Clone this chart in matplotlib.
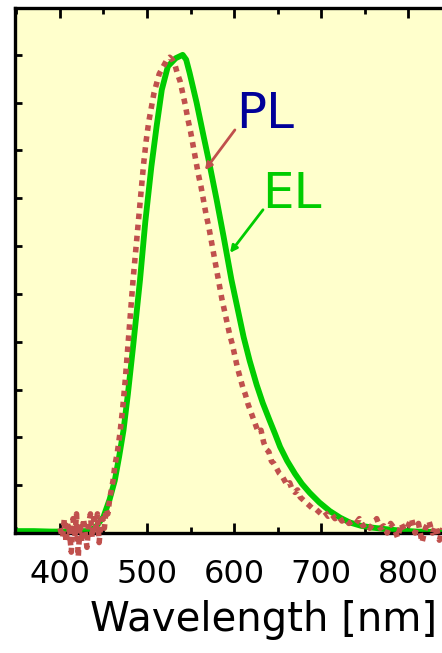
import numpy as np
import matplotlib
matplotlib.use("Agg")
import matplotlib.pyplot as plt
from matplotlib.ticker import MultipleLocator

# EL spectrum (green solid line)
el_wl = [348, 370, 390, 410, 430, 440, 450, 457, 463, 468, 473, 478, 484, 488, 492,
         498, 505, 511, 517, 524, 533, 541, 545, 549, 557, 565, 572, 580, 588, 597,
         604, 611, 618, 626, 633, 641, 647, 653, 661, 670, 678, 687, 698, 710, 722,
         733, 746, 760, 775, 791, 810, 840]
el_val = [0.004, 0.004, 0.003, 0.003, 0.004, 0.01, 0.034, 0.07, 0.11, 0.16, 0.215, 0.29,
          0.39, 0.46, 0.53, 0.65, 0.766, 0.85, 0.927, 0.976, 0.993, 1.0, 0.99, 0.962,
          0.9, 0.83, 0.77, 0.697, 0.62, 0.53, 0.47, 0.41, 0.36, 0.31, 0.272, 0.235,
          0.208, 0.18, 0.151, 0.124, 0.103, 0.084, 0.064, 0.046, 0.032, 0.022, 0.015,
          0.011, 0.008, 0.005, 0.003, 0.002]

# PL spectrum (red dotted, noisy)
pl_wl = [400, 403, 405, 407, 409, 411, 413, 415, 417, 419, 421, 423, 425, 427, 429,
         431, 433, 435, 437, 439, 441, 443, 445, 447, 449, 451, 453, 455, 457, 459,
         461, 463, 466, 469, 472, 475, 478, 481, 484, 487, 490, 493, 496, 499, 502,
         505, 508, 511, 514, 517, 520, 523, 526, 529, 532, 535, 538, 541, 544, 547,
         550, 553, 556, 559, 562, 565, 568, 571, 574, 577, 580, 583, 586, 589, 592,
         595, 598, 601, 604, 607, 610, 613, 616, 619, 622, 625, 628, 631, 634, 637,
         640, 643, 646, 649, 652, 655, 658, 661, 664, 667, 670, 673, 676, 679, 682,
         685, 688, 691, 694, 697, 700, 704, 708, 712, 716, 720, 724, 728, 732, 736,
         740, 744, 748, 752, 756, 760, 764, 768, 772, 776, 780, 784, 788, 792, 796,
         800, 804, 808, 812, 816, 820, 824, 828, 832, 836, 840]
pl_val = [0.01, -0.01, 0.03, -0.02, 0.02, 0.0, -0.04, 0.03, -0.01, 0.04, -0.05, 0.02,
          -0.02, 0.03, 0.0, -0.03, 0.02, 0.04, -0.01, 0.03, 0.01, 0.04, -0.02, 0.02,
          0.03, 0.01, 0.05, 0.04, 0.07, 0.09, 0.11, 0.14, 0.17, 0.21, 0.26, 0.32,
          0.39, 0.46, 0.53, 0.59, 0.65, 0.71, 0.77, 0.82, 0.86, 0.89, 0.92, 0.94,
          0.96, 0.97, 0.98, 0.99, 0.995, 0.99, 0.98, 0.96, 0.945, 0.92, 0.895, 0.865,
          0.84, 0.81, 0.78, 0.75, 0.725, 0.695, 0.665, 0.64, 0.61, 0.58, 0.55, 0.52,
          0.49, 0.465, 0.44, 0.415, 0.395, 0.37, 0.345, 0.325, 0.305, 0.29, 0.27,
          0.255, 0.24, 0.225, 0.21, 0.215, 0.19, 0.175, 0.17, 0.15, 0.145, 0.135,
          0.125, 0.12, 0.11, 0.1, 0.105, 0.09, 0.085, 0.09, 0.075, 0.07, 0.065, 0.06,
          0.055, 0.05, 0.05, 0.045, 0.04, 0.045, 0.035, 0.04, 0.03, 0.035, 0.025,
          0.03, 0.02, 0.025, 0.02, 0.03, 0.015, 0.02, 0.01, 0.02, 0.03, 0.01, 0.015,
          0.0, 0.02, 0.01, -0.01, 0.02, 0.005, 0.015, 0.03, 0.0, 0.02, -0.02, 0.01,
          0.025, 0.0, 0.015, -0.015, 0.01]

x_ticks = [400, 500, 600, 700, 800]

W, H = 442, 653
fig = plt.figure(figsize=(W / 100, H / 100), dpi=100)
ax = fig.add_axes([15 / W, (H - 533) / H, (W - 15) / W, (533 - 8) / H])
ax.set_facecolor("#ffffcc")

ax.plot(el_wl, el_val, color="#00cc00", linewidth=4.2, solid_joinstyle="round", zorder=2)
ax.plot(pl_wl, pl_val, color="#c0504d", linewidth=4.0, linestyle=(0, (1, 1)),
        clip_on=False, zorder=3)

ax.set_xlim(348.3, 839)
ax.set_ylim(0, 1.098)

ax.set_xticks(x_ticks)
ax.set_xticklabels([str(t) for t in x_ticks])
ax.xaxis.set_minor_locator(MultipleLocator(50))
ax.yaxis.set_major_locator(MultipleLocator(0.1))
ax.set_yticklabels([])
ax.tick_params(axis="x", which="both", direction="in", top=True, bottom=True,
               labelsize=23, pad=19, width=2)
ax.tick_params(axis="x", which="major", length=7)
ax.tick_params(axis="x", which="minor", length=4)
ax.tick_params(axis="y", which="both", direction="in", left=True, right=False,
               length=5, width=2)

for side in ["left", "top", "bottom"]:
    ax.spines[side].set_linewidth(2.4)
ax.spines["right"].set_visible(False)

ax.set_xlabel("Wavelength [nm]", fontsize=29, x=0.988, ha="right", labelpad=7)

# labels with pointer arrows
ax.text(635.6, 0.877, "PL", fontsize=36, color="#000099", ha="center", va="center")
ax.annotate("", xy=(566.6, 0.759), xytext=(601, 0.843),
            arrowprops=dict(arrowstyle="-|>", color="#c0504d", lw=2,
                            shrinkA=0, shrinkB=0, mutation_scale=10))
ax.text(666.6, 0.709, "EL", fontsize=36, color="#00cc00", ha="center", va="center")
ax.annotate("", xy=(595.4, 0.586), xytext=(633.3, 0.676),
            arrowprops=dict(arrowstyle="-|>", color="#00cc00", lw=2,
                            shrinkA=0, shrinkB=0, mutation_scale=10))

fig.savefig("out.png", dpi=100)
